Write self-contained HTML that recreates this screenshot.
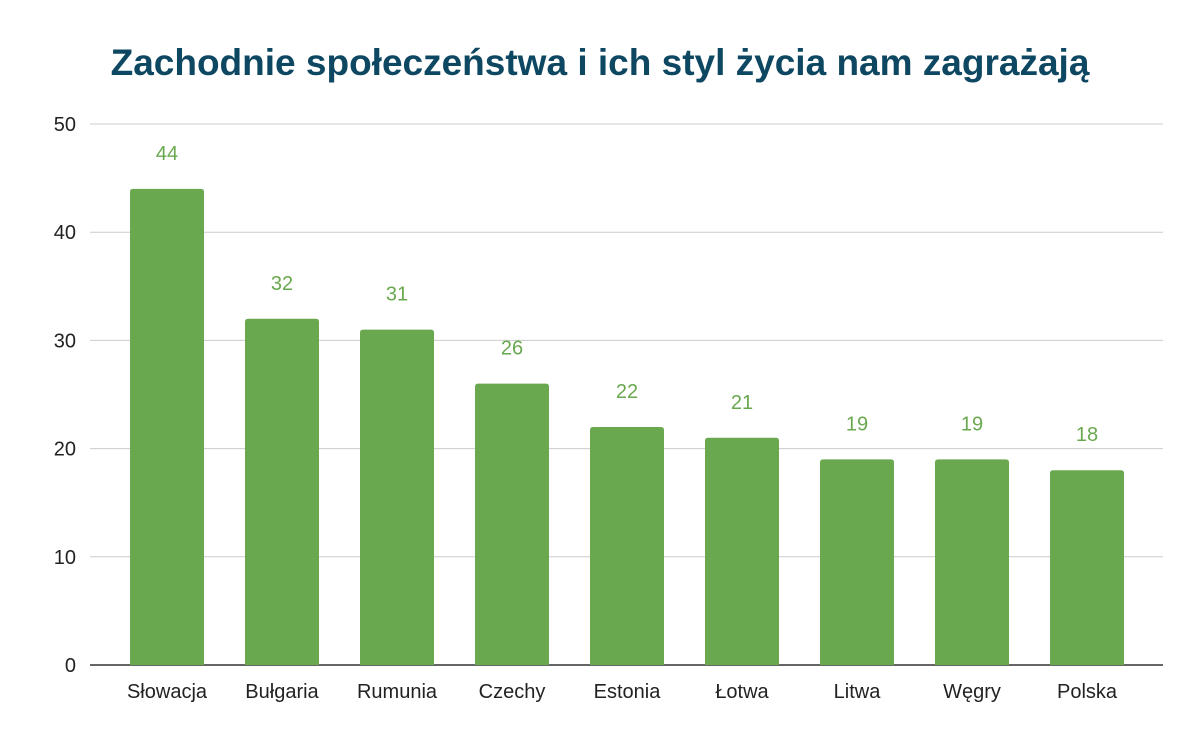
<!DOCTYPE html>
<html><head><meta charset="utf-8"><style>
body{margin:0;background:#fff;}
svg{display:block;font-family:"Liberation Sans",sans-serif;}
</style></head><body>
<svg id="chart" width="1200" height="742" viewBox="0 0 1200 742">
<rect width="1200" height="742" fill="#fff"/>
<text x="600" y="75" text-anchor="middle" font-size="37" font-weight="bold" fill="#0d4761">Zachodnie społeczeństwa i ich styl życia nam zagrażają</text>
<g id="grid"></g><g id="bars"></g><g id="labels"></g>
</svg>
<script>
const categories=["Słowacja","Bułgaria","Rumunia","Czechy","Estonia","Łotwa","Litwa","Węgry","Polska"];
const values=[44,32,31,26,22,21,19,19,18];
const yTicks=[0,10,20,30,40,50];
const ns="http://www.w3.org/2000/svg";
const y0=665,yTop=124,yMax=50;
const y=v=>y0-(y0-yTop)*v/yMax;
const x=i=>167+i*115;
const bw=74;
function mk(t,a,p){const e=document.createElementNS(ns,t);for(const k in a)e.setAttribute(k,a[k]);p.appendChild(e);return e;}
const grid=document.getElementById('grid'),bars=document.getElementById('bars'),labels=document.getElementById('labels');
yTicks.forEach(t=>{
  const l=mk('line',{x1:90,x2:1163,y1:y(t),y2:y(t),stroke:t===0?'#333':'#ccc','stroke-width':t===0?1.5:1},grid);
  
  
  const tx=mk('text',{x:76,y:y(t)+7,'text-anchor':'end','font-size':20,fill:'#222'},grid);
  tx.textContent=t;
  
  
});
categories.forEach((c,i)=>{
  const v=values[i],top=y(v),h=y0-top,r=3;
  const p=mk('path',{d:`M${x(i)-bw/2},${y0}V${top+r}Q${x(i)-bw/2},${top} ${x(i)-bw/2+r},${top}H${x(i)+bw/2-r}Q${x(i)+bw/2},${top} ${x(i)+bw/2},${top+r}V${y0}Z`,fill:'#6aa84f'},bars);
  
  
  const vl=mk('text',{x:x(i),y:top-29,'text-anchor':'middle','font-size':20,fill:'#6aa84f'},labels);
  vl.textContent=v;
  
  
  const cl=mk('text',{x:x(i),y:698,'text-anchor':'middle','font-size':20,fill:'#222'},labels);
  cl.textContent=c;
  
  
});
</script>
</body></html>
